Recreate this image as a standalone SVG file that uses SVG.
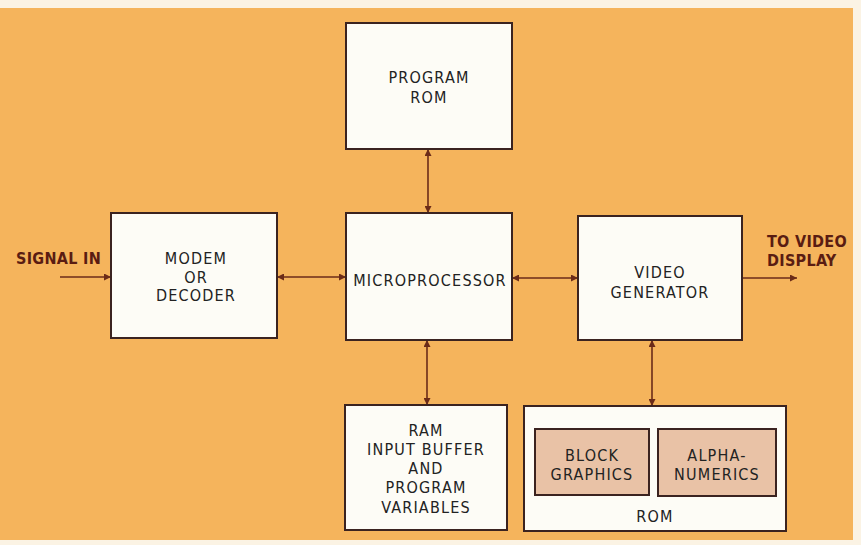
<svg xmlns="http://www.w3.org/2000/svg" width="861" height="545" viewBox="0 0 861 545">
<defs>
<marker id="ah" viewBox="0 0 10 10" refX="10" refY="5" markerWidth="9" markerHeight="7" markerUnits="userSpaceOnUse" orient="auto-start-reverse">
<path d="M0,0 L10,5 L0,10 Z" fill="#6b2b18"/>
</marker>
<style>
.box{fill:#fdfcf6;stroke:#3b2320;stroke-width:2}
.inner{fill:#e9c2a6;stroke:#3b2320;stroke-width:2}
.t{font-family:"DejaVu Sans Condensed","DejaVu Sans",sans-serif;font-stretch:condensed;font-size:16px;fill:#222;text-anchor:middle;letter-spacing:1.2px}
.lb{font-family:"DejaVu Sans Condensed","DejaVu Sans",sans-serif;font-stretch:condensed;font-size:16px;font-weight:bold;fill:#5a1c12;letter-spacing:0.3px}
.c{stroke:#6b2b18;stroke-width:1.6;fill:none}
</style>
</defs>
<rect x="0" y="0" width="861" height="545" fill="#fbf3e4"/>
<rect x="0" y="8" width="853" height="532" fill="#f5b45c"/>
<g id="connectors">
<line class="c" x1="60" y1="277" x2="111" y2="277" marker-end="url(#ah)"/>
<line class="c" x1="277" y1="277" x2="346" y2="277" marker-start="url(#ah)" marker-end="url(#ah)"/>
<line class="c" x1="428" y1="149" x2="428" y2="213" marker-start="url(#ah)" marker-end="url(#ah)"/>
<line class="c" x1="512" y1="278" x2="578" y2="278" marker-start="url(#ah)" marker-end="url(#ah)"/>
<line class="c" x1="742" y1="278" x2="797" y2="278" marker-end="url(#ah)"/>
<line class="c" x1="427" y1="340" x2="427" y2="405" marker-start="url(#ah)" marker-end="url(#ah)"/>
<line class="c" x1="652" y1="340" x2="652" y2="406" marker-start="url(#ah)" marker-end="url(#ah)"/>
</g>
<g id="signal-in"><text class="lb" x="16" y="264">SIGNAL IN</text></g>
<g id="to-video"><text class="lb" x="767" y="247">TO VIDEO</text><text class="lb" x="767" y="266">DISPLAY</text></g>
<g id="program-rom">
<rect class="box" x="346" y="23" width="166" height="126"/>
<text class="t" x="429" y="83">PROGRAM</text><text class="t" x="429" y="103">ROM</text>
</g>
<g id="modem">
<rect class="box" x="111" y="213" width="166" height="125"/>
<text class="t" x="196" y="264">MODEM</text><text class="t" x="196" y="283">OR</text><text class="t" x="196" y="301">DECODER</text>
</g>
<g id="microprocessor">
<rect class="box" x="346" y="213" width="166" height="127"/>
<text class="t" x="430" y="286">MICROPROCESSOR</text>
</g>
<g id="video-generator">
<rect class="box" x="578" y="216" width="164" height="124"/>
<text class="t" x="660" y="278">VIDEO</text><text class="t" x="660" y="298">GENERATOR</text>
</g>
<g id="ram">
<rect class="box" x="345" y="405" width="162" height="125"/>
<text class="t" x="426" y="436">RAM</text><text class="t" x="426" y="455">INPUT BUFFER</text><text class="t" x="426" y="474">AND</text><text class="t" x="426" y="493">PROGRAM</text><text class="t" x="426" y="513">VARIABLES</text>
</g>
<g id="rom">
<rect class="box" x="524" y="406" width="262" height="125"/>
<text class="t" x="655" y="522">ROM</text>
</g>
<g id="block-graphics">
<rect class="inner" x="535" y="429" width="114" height="66"/>
<text class="t" x="592" y="461">BLOCK</text><text class="t" x="592" y="480">GRAPHICS</text>
</g>
<g id="alphanumerics">
<rect class="inner" x="658" y="429" width="118" height="67"/>
<text class="t" x="717" y="461">ALPHA-</text><text class="t" x="717" y="480">NUMERICS</text>
</g>
</svg>
